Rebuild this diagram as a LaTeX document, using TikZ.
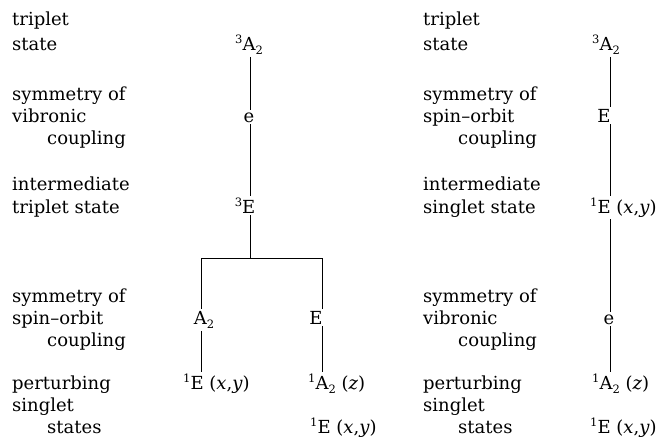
\documentclass[tikz,border=0pt]{standalone}
\usepackage{fontspec}
\setmainfont{DejaVu Serif}
\newcommand\mysub[1]{\raisebox{-.5ex}{\fontsize{11.5}{11.5}\selectfont #1}}
\newcommand\mysup[1]{\raisebox{.7ex}{\fontsize{11.5}{11.5}\selectfont #1}}
\newcommand\lbf{\fontsize{18}{22}\selectfont}
\tikzset{
  lbl/.style={anchor=base west, inner sep=0pt, font=\lbf},
  st/.style={anchor=base, inner sep=2pt, font=\lbf},
  stw/.style={anchor=base west, inner sep=2pt, font=\lbf},
  conn/.style={draw=black, line width=0.9pt}
}
\begin{document}
\begin{tikzpicture}[x=1pt,y=-1pt]
\useasboundingbox (0,0) rectangle (664,437);
% ---------- left labels ----------
\node[lbl] (l1) at (12,25) {triplet};
\node[lbl] (l2) at (12,50) {state};
\node[lbl] (l3) at (12,100) {symmetry of};
\node[lbl] (l4) at (12,122) {vibronic};
\node[lbl] (l5) at (47,144) {coupling};
\node[lbl] (l6) at (12,190) {intermediate};
\node[lbl] (l7) at (12,213) {triplet state};
\node[lbl] (l8) at (12,302) {symmetry of};
\node[lbl] (l9) at (12,324) {spin--orbit};
\node[lbl] (l10) at (47,346) {coupling};
\node[lbl] (l11) at (12,389) {perturbing};
\node[lbl] (l12) at (12,411) {singlet};
\node[lbl] (l13) at (47,433) {states};
% ---------- right labels ----------
\node[lbl] (r1) at (423,25) {triplet};
\node[lbl] (r2) at (423,50) {state};
\node[lbl] (r3) at (423,100) {symmetry of};
\node[lbl] (r4) at (423,122) {spin--orbit};
\node[lbl] (r5) at (458,144) {coupling};
\node[lbl] (r6) at (423,190) {intermediate};
\node[lbl] (r7) at (423,213) {singlet state};
\node[lbl] (r8) at (423,302) {symmetry of};
\node[lbl] (r9) at (423,324) {vibronic};
\node[lbl] (r10) at (458,346) {coupling};
\node[lbl] (r11) at (423,389) {perturbing};
\node[lbl] (r12) at (423,411) {singlet};
\node[lbl] (r13) at (458,433) {states};
% ---------- left diagram ----------
\coordinate (xL) at (250,0);
\coordinate (xA) at (201,0);
\coordinate (xB) at (322,0);
\node[st] (LA) at (249,50) {\mysup{3}A\mysub{2}};
\node[st] (Le) at (249,122) {e};
\node[st] (LE) at (245,213) {\mysup{3}E};
\coordinate (split) at (250,258);
\node[st] (LA2) at (204,324) {A\mysub{2}};
\node[st] (LEs) at (316,324) {E};
\node[stw] (L1E) at (181,389) {\mysup{1}E (\textit{x},\textit{y})};
\node[stw] (L1A) at (306,389) {\mysup{1}A\mysub{2} (\textit{z})};
\node[stw] (L1Eb) at (308,433) {\mysup{1}E (\textit{x},\textit{y})};
\draw[conn] (LA.south -| xL) -- (Le.north -| xL);
\draw[conn] (Le.south -| xL) -- (LE.north -| xL);
\draw[conn] (LE.south -| xL) -- (split);
\draw[conn] (LA2.north -| xA) -- (split -| xA) -- (split -| xB) -- (LEs.north -| xB);
\draw[conn] (LA2.south -| xA) -- (L1E.north -| xA);
\draw[conn] (LEs.south -| xB) -- (L1A.north -| xB);
% ---------- right diagram ----------
\coordinate (xR) at (610,0);
\node[st] (RA) at (606,50) {\mysup{3}A\mysub{2}};
\node[st] (RE) at (604,122) {E};
\node[stw] (R1E) at (588,213) {\mysup{1}E (\textit{x},\textit{y})};
\node[st] (Re) at (609,324) {e};
\node[stw] (R1A) at (590,389) {\mysup{1}A\mysub{2} (\textit{z})};
\node[stw] (R1Eb) at (588,433) {\mysup{1}E (\textit{x},\textit{y})};
\draw[conn] (RA.south -| xR) -- (RE.north -| xR);
\draw[conn] (RE.south -| xR) -- (R1E.north -| xR);
\draw[conn] (R1E.south -| xR) -- (Re.north -| xR);
\draw[conn] (Re.south -| xR) -- (R1A.north -| xR);
\end{tikzpicture}
\end{document}
